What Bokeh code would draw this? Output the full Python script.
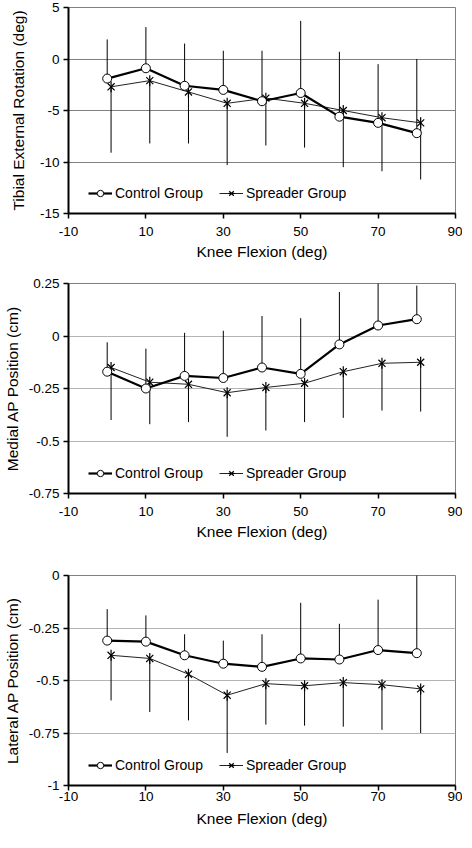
import numpy as np
from bokeh.plotting import figure
from bokeh.layouts import column
from bokeh.models import FixedTicker, Legend, LegendItem
from bokeh.embed import file_html
from bokeh.resources import INLINE

# ---------------- data ----------------
flexion = [0, 10, 20, 30, 40, 50, 60, 70, 80]
x_ticks = [-10, 10, 30, 50, 70, 90]
x_tick_labels = ["-10", "10", "30", "50", "70", "90"]

# Panel 1: tibial external rotation (deg)
tib_ctrl_mean = [-1.9, -0.9, -2.6, -3.0, -4.1, -3.3, -5.6, -6.2, -7.2]
tib_ctrl_sd = [3.8, 4.0, 4.1, 3.8, 4.9, 7.0, 6.3, 5.7, 7.2]
tib_spr_mean = [-2.7, -2.1, -3.2, -4.3, -3.8, -4.3, -5.0, -5.7, -6.2]
tib_spr_sd = [6.4, 6.1, 5.0, 6.0, 4.6, 4.3, 5.5, 5.2, 5.5]
tib_ticks = [-15, -10, -5, 0, 5]
tib_tick_labels = ["-15", "-10", "-5", "0", "5"]

# Panel 2: medial AP position (cm)
med_ctrl_mean = [-0.17, -0.25, -0.19, -0.20, -0.15, -0.18, -0.04, 0.05, 0.08]
med_ctrl_sd = [0.14, 0.19, 0.205, 0.225, 0.245, 0.265, 0.25, 0.22, 0.16]
med_spr_mean = [-0.15, -0.22, -0.23, -0.27, -0.245, -0.225, -0.17, -0.13, -0.125]
med_spr_sd = [0.25, 0.20, 0.18, 0.21, 0.205, 0.185, 0.22, 0.225, 0.235]
med_ticks = [-0.75, -0.5, -0.25, 0, 0.25]
med_tick_labels = ["-0.75", "-0.5", "-0.25", "0", "0.25"]

# Panel 3: lateral AP position (cm)
lat_ctrl_mean = [-0.31, -0.315, -0.38, -0.42, -0.435, -0.395, -0.40, -0.355, -0.37]
lat_ctrl_sd = [0.15, 0.125, 0.10, 0.11, 0.155, 0.265, 0.17, 0.24, 0.385]
lat_spr_mean = [-0.38, -0.395, -0.47, -0.57, -0.515, -0.525, -0.51, -0.52, -0.54]
lat_spr_sd = [0.215, 0.255, 0.22, 0.275, 0.195, 0.19, 0.21, 0.215, 0.21]
lat_ticks = [-1, -0.75, -0.5, -0.25, 0]
lat_tick_labels = ["-1", "-0.75", "-0.5", "-0.25", "0"]

series_names = ["Control Group", "Spreader Group"]
x_title = "Knee Flexion (deg)"

FONT = "Liberation Sans"
SPR_OFFSET = 1  # spreader points drawn 1 deg to the right


def make_panel(ylabel, yticks, ylabels, ctrl_m, ctrl_sd, spr_m, spr_sd,
               height, top, bottom, grid_color, tick_standoff, title_standoff,
               ytitle_standoff):
    p = figure(width=462, height=height, output_backend="svg", toolbar_location=None,
               x_range=(-10, 90), y_range=(yticks[0], yticks[-1]),
               min_border_left=64, min_border_right=7,
               min_border_top=top, min_border_bottom=bottom)
    p.background_fill_color = "white"
    p.border_fill_color = "white"
    p.outline_line_color = "#808080"
    p.outline_line_width = 1

    for ax in (p.xaxis[0], p.yaxis[0]):
        ax.axis_line_color = "black"
        ax.axis_line_width = 2
        ax.major_tick_line_color = "black"
        ax.major_tick_line_width = 1.5
        ax.major_tick_in = 0
        ax.major_tick_out = 5
        ax.minor_tick_line_color = None
        ax.major_label_text_font = FONT
        ax.major_label_text_font_size = "13.5px"
        ax.major_label_text_color = "black"
        ax.axis_label_text_font = FONT
        ax.axis_label_text_font_size = "15.5px"
        ax.axis_label_text_font_style = "normal"
        ax.axis_label_text_color = "black"

    p.xaxis.ticker = FixedTicker(ticks=x_ticks)
    p.xaxis.major_label_overrides = {float(t): s for t, s in zip(x_ticks, x_tick_labels)}
    p.xaxis.axis_label = x_title
    p.xaxis.major_label_standoff = tick_standoff
    p.xaxis.axis_label_standoff = title_standoff

    p.yaxis.ticker = FixedTicker(ticks=yticks)
    p.yaxis.major_label_overrides = {float(t): s for t, s in zip(yticks, ylabels)}
    p.yaxis.axis_label = ylabel
    p.yaxis.major_label_standoff = 4
    p.yaxis.axis_label_standoff = ytitle_standoff

    p.xgrid.grid_line_color = None
    p.ygrid.ticker = FixedTicker(ticks=yticks)
    p.ygrid.grid_line_color = grid_color
    p.ygrid.grid_line_width = 1.2

    xs_c = np.array(flexion, dtype=float)
    xs_s = xs_c + SPR_OFFSET
    cm = np.array(ctrl_m); cs = np.array(ctrl_sd)
    sm = np.array(spr_m); ss = np.array(spr_sd)

    # error bars (one-sided: control up, spreader down)
    p.segment(xs_c, cm, xs_c, cm + cs, line_color="black", line_width=1)
    p.segment(xs_s, sm, xs_s, sm - ss, line_color="black", line_width=1)

    l_s = p.line(xs_s, sm, line_color="#222222", line_width=1)
    m_s1 = p.scatter(xs_s, sm, marker="x", size=10, line_color="black", line_width=1.2)
    m_s2 = p.scatter(xs_s, sm, marker="dash", size=11, angle=np.pi / 2,
                     line_color="black", line_width=1.2)
    l_c = p.line(xs_c, cm, line_color="black", line_width=2.2)
    m_c = p.scatter(xs_c, cm, marker="circle", size=9, line_color="black",
                    line_width=1, fill_color="white")

    legend = Legend(items=[LegendItem(label=series_names[0], renderers=[l_c, m_c]),
                           LegendItem(label=series_names[1], renderers=[l_s, m_s1, m_s2])],
                    orientation="horizontal", location=(20, 12),
                    glyph_width=24, glyph_height=16, label_standoff=3, spacing=16,
                    padding=0, margin=0, border_line_color=None,
                    background_fill_alpha=0,
                    label_text_font=FONT, label_text_font_size="14px",
                    label_text_color="black", label_height=16)
    p.add_layout(legend, "center")
    return p


p1 = make_panel("Tibial External Rotation (deg)", tib_ticks, tib_tick_labels,
                tib_ctrl_mean, tib_ctrl_sd, tib_spr_mean, tib_spr_sd,
                height=273, top=7, bottom=60, grid_color="#808080",
                tick_standoff=8, title_standoff=4, ytitle_standoff=10)
p2 = make_panel("Medial AP Position (cm)", med_ticks, med_tick_labels,
                med_ctrl_mean, med_ctrl_sd, med_spr_mean, med_spr_sd,
                height=280, top=10, bottom=60, grid_color="#b4b4b4",
                tick_standoff=8, title_standoff=4, ytitle_standoff=5)
p3 = make_panel("Lateral AP Position (cm)", lat_ticks, lat_tick_labels,
                lat_ctrl_mean, lat_ctrl_sd, lat_spr_mean, lat_spr_sd,
                height=279, top=22, bottom=47, grid_color="#b4b4b4",
                tick_standoff=1, title_standoff=6, ytitle_standoff=5)

layout = column(p1, p2, p3)
open("out.html", "w").write(file_html(layout, INLINE))
